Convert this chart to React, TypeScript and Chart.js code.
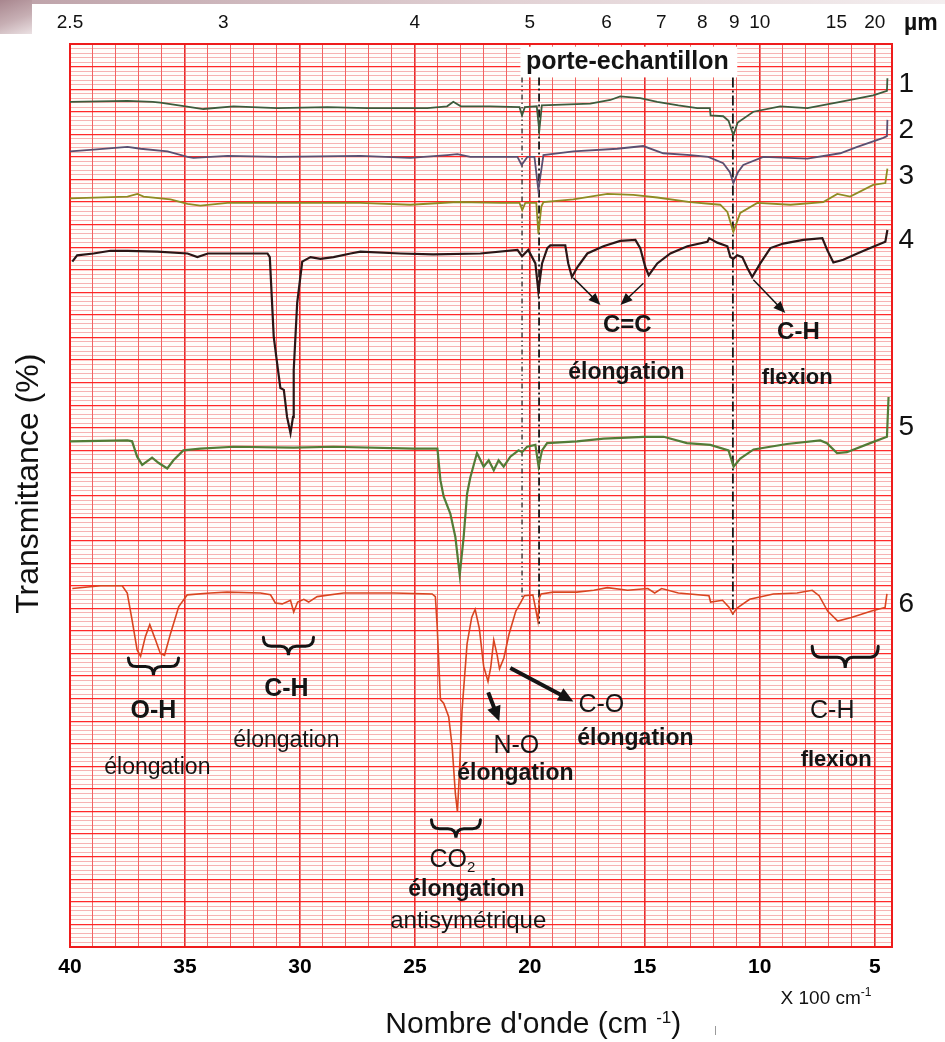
import React, { useEffect, useRef } from 'react';
import { Chart, registerables } from 'chart.js';

Chart.register(...registerables);

type Pt = [number, number];

const FONT = '"Liberation Sans", Arial, Helvetica, sans-serif';

// wavenumber (cm-1), offset transmittance (%)
const spectrum1: Pt[] = [
  [4000, 93.6], [3750, 93.7], [3640, 93.6], [3607, 93.5], [3498, 93.1], [3420, 92.8], [3289, 93.1], [3098, 92.9],
  [2880, 93.0], [2707, 92.9], [2446, 92.9], [2360, 93.1], [2333, 93.6], [2300, 93.1], [2172, 93.1], [2045, 93.0],
  [2034, 92.1], [2022, 93.0], [1970, 93.1], [1959, 90.4], [1948, 93.2], [1737, 93.4], [1650, 93.8], [1607, 94.2],
  [1520, 94.0], [1446, 93.6], [1354, 93.2], [1272, 92.9], [1217, 92.9], [1214, 92.1], [1159, 92.0], [1136, 91.5],
  [1115, 89.9], [1096, 91.3], [1028, 92.5], [911, 93.1], [793, 92.9], [650, 93.6], [507, 94.3], [447, 94.8], [445, 96.2],
];

const spectrum2: Pt[] = [
  [4000, 88.1], [3898, 88.3], [3750, 88.6], [3693, 88.4], [3576, 88.1], [3489, 87.5], [3463, 87.4], [3315, 87.6],
  [3098, 87.5], [2737, 87.6], [2520, 87.4], [2359, 87.7], [2315, 87.8], [2259, 87.5], [2054, 87.5], [2036, 86.6],
  [2011, 87.5], [1980, 87.5], [1963, 83.8], [1941, 87.7], [1811, 88.1], [1620, 88.4], [1507, 88.7], [1420, 87.9],
  [1302, 87.7], [1224, 87.5], [1159, 86.8], [1130, 85.8], [1115, 84.6], [1095, 85.8], [1072, 86.6], [985, 87.5],
  [793, 87.3], [650, 87.9], [576, 88.6], [463, 89.6], [447, 89.8], [445, 91.6],
];

const spectrum3: Pt[] = [
  [4000, 82.9], [3750, 83.1], [3707, 83.4], [3680, 83.1], [3563, 82.8], [3489, 82.3], [3433, 82.1], [3315, 82.4],
  [2737, 82.4], [2520, 82.2], [2315, 82.5], [2128, 82.4], [2045, 82.4], [2033, 81.6], [2020, 82.4], [1972, 82.4],
  [1963, 79.0], [1950, 82.0], [1941, 82.5], [1811, 82.8], [1663, 83.4], [1550, 83.3], [1446, 83.0], [1302, 82.5],
  [1172, 82.2], [1141, 81.4], [1115, 79.2], [1085, 81.3], [1011, 82.4], [867, 82.2], [724, 82.5], [663, 83.4],
  [607, 83.1], [507, 84.4], [454, 84.6], [445, 86.2],
];

const spectrum4: Pt[] = [
  [3990, 75.9], [3969, 76.6], [3898, 76.8], [3824, 77.1], [3750, 77.1], [3620, 77.0], [3489, 76.8], [3446, 76.4],
  [3400, 76.8], [3315, 76.8], [3141, 76.8], [3131, 76.4], [3114, 67.6], [3099, 64.6], [3085, 61.9], [3070, 61.7],
  [3056, 58.7], [3041, 56.9], [3030, 58.7], [3027, 63.9], [3012, 71.3], [2990, 75.9], [2954, 76.4], [2911, 76.2],
  [2854, 76.4], [2780, 76.8], [2737, 77.0], [2563, 76.8], [2420, 76.7], [2215, 76.8], [2054, 77.2], [2034, 76.5],
  [2007, 77.2], [1976, 75.7], [1963, 72.6], [1947, 75.7], [1924, 77.4], [1911, 77.7], [1846, 77.7], [1833, 75.7],
  [1817, 74.2], [1793, 75.3], [1750, 76.8], [1680, 77.6], [1607, 78.2], [1541, 78.3], [1520, 77.4], [1498, 75.3],
  [1483, 74.4], [1446, 75.7], [1389, 76.8], [1315, 77.6], [1228, 78.1], [1220, 78.5], [1185, 78.0], [1141, 77.6],
  [1128, 76.4], [1115, 76.2], [1098, 76.6], [1076, 76.4], [1054, 75.2], [1033, 74.2], [998, 75.7], [954, 77.4],
  [898, 77.9], [811, 78.3], [728, 78.5], [707, 77.2], [680, 75.8], [637, 76.1], [576, 76.8], [520, 77.4],
  [454, 78.1], [445, 79.4],
];

const spectrum5: Pt[] = [
  [4000, 56.0], [3750, 56.1], [3730, 56.0], [3708, 54.3], [3686, 53.4], [3643, 54.2], [3614, 53.6], [3577, 53.0],
  [3550, 53.9], [3507, 55.0], [3433, 55.2], [3289, 55.4], [3027, 55.3], [2854, 55.4], [2507, 55.2], [2402, 55.2],
  [2389, 51.7], [2375, 49.9], [2346, 48.0], [2324, 45.4], [2305, 41.2], [2288, 45.4], [2273, 50.2], [2259, 52.0],
  [2230, 54.7], [2201, 53.2], [2179, 53.9], [2157, 52.8], [2136, 53.9], [2114, 53.2], [2085, 54.3], [2049, 55.0],
  [2034, 54.8], [2012, 55.4], [1976, 55.6], [1962, 53.2], [1947, 55.0], [1925, 55.8], [1795, 56.0], [1679, 56.3],
  [1505, 56.5], [1418, 56.5], [1317, 55.8], [1215, 55.6], [1136, 55.0], [1114, 53.2], [1085, 54.1], [1027, 55.1],
  [882, 55.7], [737, 56.1], [708, 55.8], [664, 54.7], [621, 54.8], [520, 55.8], [447, 56.5], [440, 60.9],
];

const spectrum6: Pt[] = [
  [3990, 39.7], [3867, 40.0], [3773, 40.0], [3751, 39.2], [3730, 36.2], [3708, 32.9], [3693, 32.2], [3672, 34.4],
  [3653, 35.7], [3628, 34.0], [3607, 32.5], [3589, 32.3], [3563, 34.7], [3527, 37.7], [3490, 39.0], [3389, 39.2],
  [3317, 39.3], [3172, 39.2], [3128, 39.0], [3107, 38.1], [3077, 38.0], [3041, 38.4], [3027, 37.1], [3010, 38.2],
  [2983, 38.5], [2962, 38.2], [2925, 38.8], [2810, 39.2], [2592, 39.2], [2425, 39.1], [2411, 38.8], [2403, 35.5],
  [2389, 27.4], [2375, 27.0], [2353, 25.5], [2338, 22.2], [2324, 17.0], [2315, 15.0], [2307, 18.9], [2295, 26.2],
  [2273, 33.6], [2253, 36.5], [2238, 37.4], [2220, 35.3], [2201, 31.1], [2182, 29.4], [2170, 31.0], [2157, 34.0],
  [2142, 32.3], [2132, 30.8], [2113, 32.0], [2091, 34.6], [2061, 37.2], [2039, 38.2], [2024, 38.9], [1987, 39.0],
  [1976, 37.6], [1965, 36.1], [1958, 38.7], [1951, 39.1], [1899, 39.3], [1796, 39.3], [1722, 39.5], [1663, 39.8],
  [1575, 39.5], [1487, 39.7], [1457, 39.2], [1427, 39.7], [1354, 39.2], [1221, 38.9], [1214, 38.2], [1162, 38.4],
  [1133, 37.6], [1118, 36.9], [1096, 37.6], [1044, 38.5], [941, 39.1], [838, 39.2], [772, 39.5], [742, 38.9],
  [705, 37.2], [661, 36.1], [602, 36.5], [514, 37.2], [455, 37.6], [447, 39.1],
];

const spectra: Pt[][] = [spectrum1, spectrum2, spectrum3, spectrum4, spectrum5, spectrum6];
const spectrumColors = ['#3d5b3c', '#5a4f70', '#8e8b22', '#2a1616', '#527c36', '#d9441f'];
const spectrumWidths = [1.8, 1.8, 1.8, 2.2, 2.2, 1.6];

const curveLabels = ['1', '2', '3', '4', '5', '6'];
const curveLabelT = [95.5, 90.5, 85.3, 78.3, 57.6, 38.0];
const CURVE_LABEL_WN = 363;

// sample-holder bands (dash-dot guide lines)
const holderWn = [2034, 1960, 1117];
const holderBottomT = [38.5, 35.8, 36.5];
const holderDash = [[5, 3, 1.5, 3, 1.5, 3], [8, 3, 2, 3], [10, 3, 2, 3]];
const holderWidth = [1.2, 1.8, 1.8];
const HOLDER_TOP_T = 96.3;

const wavenumberLabelTicks = [4000, 3500, 3000, 2500, 2000, 1500, 1000, 500];
const micronTicks = [2.5, 3, 4, 5, 6, 7, 8, 9, 10, 15, 20];

const WN_MIN = 425;
const WN_MAX = 4000;

type Note = { text: string; wn: number; t: number; size: number; bold?: boolean };
const notes: Note[] = [
  { text: 'porte-echantillon', wn: 1576, t: 98.0, size: 25, bold: true },
  { text: 'C=C', wn: 1576, t: 68.8, size: 24, bold: true },
  { text: 'élongation', wn: 1580, t: 63.6, size: 23, bold: true },
  { text: 'C-H', wn: 832, t: 68.1, size: 24, bold: true },
  { text: 'flexion', wn: 837, t: 63.0, size: 22, bold: true },
  { text: 'O-H', wn: 3637, t: 26.1, size: 25, bold: true },
  { text: 'élongation', wn: 3620, t: 19.9, size: 23 },
  { text: 'C-H', wn: 3059, t: 28.6, size: 25, bold: true },
  { text: 'élongation', wn: 3059, t: 22.9, size: 23 },
  { text: 'N-O', wn: 2059, t: 22.3, size: 25 },
  { text: 'élongation', wn: 2063, t: 19.2, size: 23, bold: true },
  { text: 'C-O', wn: 1689, t: 26.8, size: 25 },
  { text: 'élongation', wn: 1541, t: 23.1, size: 23, bold: true },
  { text: 'élongation', wn: 2276, t: 6.3, size: 23, bold: true },
  { text: 'antisymétrique', wn: 2268, t: 2.8, size: 24 },
  { text: 'C-H', wn: 685, t: 26.1, size: 25 },
  { text: 'flexion', wn: 668, t: 20.7, size: 22, bold: true },
];

const braces = [
  { from: 3746, to: 3528, top: 32.0, tip: 30.1 },
  { from: 3159, to: 2941, top: 34.3, tip: 32.3 },
  { from: 2428, to: 2215, top: 14.1, tip: 12.1 },
  { from: 772, to: 485, top: 33.3, tip: 30.9 },
];

const arrows = [
  { from: [1811, 74.1], to: [1693, 71.1], w: 1.5 },
  { from: [1506, 73.5], to: [1606, 71.1], w: 1.5 },
  { from: [1028, 73.9], to: [889, 70.2], w: 1.5 },
  { from: [2181, 28.2], to: [2133, 25.0], w: 4 },
  { from: [2085, 30.9], to: [1811, 27.2], w: 4 },
];

const xGrid: number[] = [];
for (let v = 500; v <= 4000; v += 100) xGrid.push(v);
const yGrid: number[] = [];
for (let i = 0; i <= 200; i++) yGrid.push(i / 2);

const isMajorT = (v: number) => Math.abs(v / 2.5 - Math.round(v / 2.5)) < 1e-6;

function font(size: number, bold?: boolean) {
  return `${bold ? 'bold ' : ''}${size}px ${FONT}`;
}

function drawText(ctx: CanvasRenderingContext2D, s: string, x: number, y: number, size: number, bold?: boolean, align: CanvasTextAlign = 'center') {
  ctx.font = font(size, bold);
  ctx.textAlign = align;
  ctx.textBaseline = 'middle';
  ctx.fillText(s, x, y);
}

function drawSup(ctx: CanvasRenderingContext2D, main: string, sup: string, tail: string, cx: number, base: number, size: number, supSize: number, rise: number) {
  ctx.font = font(size);
  const w1 = ctx.measureText(main).width;
  const w3 = ctx.measureText(tail).width;
  ctx.font = font(supSize);
  const w2 = ctx.measureText(sup).width;
  let x = cx - (w1 + w2 + w3) / 2;
  ctx.textAlign = 'left';
  ctx.textBaseline = 'alphabetic';
  ctx.font = font(size);
  ctx.fillText(main, x, base);
  x += w1;
  ctx.font = font(supSize);
  ctx.fillText(sup, x, base - rise);
  x += w2;
  ctx.font = font(size);
  ctx.fillText(tail, x, base);
}

function drawBrace(ctx: CanvasRenderingContext2D, x1: number, x2: number, yTop: number, yTip: number) {
  const xc = (x1 + x2) / 2;
  const ym = (yTop + yTip) / 2;
  const q = Math.min(8, Math.abs(x2 - x1) / 6);
  ctx.beginPath();
  ctx.moveTo(x1, yTop);
  ctx.quadraticCurveTo(x1, ym, x1 + q, ym);
  ctx.lineTo(xc - q, ym);
  ctx.quadraticCurveTo(xc, ym, xc, yTip);
  ctx.quadraticCurveTo(xc, ym, xc + q, ym);
  ctx.lineTo(x2 - q, ym);
  ctx.quadraticCurveTo(x2, ym, x2, yTop);
  ctx.stroke();
}

function drawArrow(ctx: CanvasRenderingContext2D, x1: number, y1: number, x2: number, y2: number, w: number) {
  const a = Math.atan2(y2 - y1, x2 - x1);
  const hl = w > 2 ? 15 : 12;
  const hw = w > 2 ? 7 : 5;
  ctx.lineWidth = w;
  ctx.beginPath();
  ctx.moveTo(x1, y1);
  ctx.lineTo(x2 - hl * 0.7 * Math.cos(a), y2 - hl * 0.7 * Math.sin(a));
  ctx.stroke();
  ctx.beginPath();
  ctx.moveTo(x2, y2);
  ctx.lineTo(x2 - hl * Math.cos(a) + hw * Math.sin(a), y2 - hl * Math.sin(a) - hw * Math.cos(a));
  ctx.lineTo(x2 - hl * Math.cos(a) - hw * Math.sin(a), y2 - hl * Math.sin(a) + hw * Math.cos(a));
  ctx.closePath();
  ctx.fill();
}

const paperPlugin = {
  id: 'paper',
  beforeDraw(chart: any) {
    const { ctx, chartArea: a } = chart;
    ctx.save();
    ctx.fillStyle = '#fffdfa';
    ctx.fillRect(a.left, a.top, a.right - a.left, a.bottom - a.top);
    ctx.restore();
  },
  beforeDatasetsDraw(chart: any) {
    const { ctx } = chart;
    const x = chart.scales.x;
    const y = chart.scales.y;
    ctx.save();
    ctx.fillStyle = '#ffffff';
    const l = x.getPixelForValue(2041);
    const r = x.getPixelForValue(1098);
    const t = y.getPixelForValue(99.7);
    const b = y.getPixelForValue(96.3);
    ctx.fillRect(l, t, r - l, b - t);
    ctx.restore();
  },
};

const annotationPlugin = {
  id: 'annotations',
  afterDraw(chart: any) {
    const { ctx, chartArea: area } = chart;
    const x = chart.scales.x;
    const y = chart.scales.y;
    ctx.save();
    ctx.fillStyle = '#141414';
    ctx.strokeStyle = '#141414';

    notes.forEach((n) => drawText(ctx, n.text, x.getPixelForValue(n.wn), y.getPixelForValue(n.t), n.size, n.bold));

    // CO2 with subscript
    {
      const cx = x.getPixelForValue(2337);
      const base = y.getPixelForValue(9.9) + 9;
      ctx.font = font(25);
      const w1 = ctx.measureText('CO').width;
      ctx.font = font(15);
      const w2 = ctx.measureText('2').width;
      const sx = cx - (w1 + w2) / 2;
      ctx.textAlign = 'left';
      ctx.textBaseline = 'alphabetic';
      ctx.font = font(25);
      ctx.fillText('CO', sx, base);
      ctx.font = font(15);
      ctx.fillText('2', sx + w1, base + 5);
    }

    ctx.lineWidth = 3;
    ctx.lineCap = 'round';
    braces.forEach((b) => drawBrace(ctx, x.getPixelForValue(b.from), x.getPixelForValue(b.to), y.getPixelForValue(b.top), y.getPixelForValue(b.tip)));
    ctx.lineCap = 'butt';
    arrows.forEach((a) =>
      drawArrow(ctx, x.getPixelForValue(a.from[0]), y.getPixelForValue(a.from[1]), x.getPixelForValue(a.to[0]), y.getPixelForValue(a.to[1]), a.w)
    );

    // spectrum numbers on the right
    ctx.fillStyle = '#111';
    curveLabels.forEach((s, i) => drawText(ctx, s, x.getPixelForValue(CURVE_LABEL_WN), y.getPixelForValue(curveLabelT[i]), 28));

    // axis titles
    ctx.save();
    ctx.translate(area.left - 41, y.getPixelForValue(51.3));
    ctx.rotate(-Math.PI / 2);
    drawText(ctx, 'Transmittance (%)', 0, 0, 32);
    ctx.restore();

    drawSup(ctx, "Nombre d'onde (cm ", '-1', ')', x.getPixelForValue(1985), area.bottom + 86, 30, 17, 10);
    drawSup(ctx, 'X 100 cm', '-1', '', x.getPixelForValue(712), area.bottom + 57, 19, 12, 8);
    drawText(ctx, 'µm', area.right + 12, 24, 23, true, 'left');

    ctx.strokeStyle = '#9a9a9a';
    ctx.lineWidth = 1;
    ctx.beginPath();
    ctx.moveTo(715.5, area.bottom + 79);
    ctx.lineTo(715.5, area.bottom + 88);
    ctx.stroke();
    ctx.restore();
  },
};

export default function App() {
  const ref = useRef<HTMLCanvasElement | null>(null);

  useEffect(() => {
    const canvas = ref.current;
    if (!canvas) return;

    const spectrumSets = spectra.map((s, i) => ({
      label: `Spectre ${curveLabels[i]}`,
      data: s.map(([wn, t]) => ({ x: wn, y: t })),
      borderColor: spectrumColors[i],
      borderWidth: spectrumWidths[i],
      pointRadius: 0,
      fill: false,
      tension: 0,
    }));
    const holderSets = holderWn.map((wn, i) => ({
      label: `porte ${i}`,
      data: [
        { x: wn, y: HOLDER_TOP_T },
        { x: wn, y: holderBottomT[i] },
      ],
      borderColor: '#151515',
      borderWidth: holderWidth[i],
      borderDash: holderDash[i],
      pointRadius: 0,
      fill: false,
    }));

    const chart = new Chart(canvas, {
      type: 'line',
      data: { datasets: [...spectrumSets, ...holderSets] as any },
      plugins: [paperPlugin, annotationPlugin],
      options: {
        responsive: false,
        devicePixelRatio: 1,
        animation: false,
        layout: { padding: 0 },
        plugins: { legend: { display: false }, tooltip: { enabled: false } },
        events: [],
        scales: {
          x: {
            type: 'linear',
            position: 'bottom',
            reverse: true,
            min: WN_MIN,
            max: WN_MAX,
            afterBuildTicks: (s: any) => {
              s.ticks = xGrid.map((v) => ({ value: v }));
            },
            afterFit: (s: any) => {
              s.height = 95;
            },
            grid: {
              drawTicks: false,
              color: (c: any) => (c.tick && c.tick.value % 500 === 0 ? 'rgba(232,30,30,0.95)' : 'rgba(240,55,55,0.78)'),
              lineWidth: (c: any) => (c.tick && c.tick.value % 500 === 0 ? 1.6 : 1),
            },
            border: { display: true, color: '#ee1c1c', width: 2 },
            ticks: {
              autoSkip: false,
              maxRotation: 0,
              minRotation: 0,
              padding: 8,
              color: '#000',
              font: { family: FONT, size: 21, weight: 'bold' },
              callback: (v: any) => (wavenumberLabelTicks.includes(Number(v)) ? String(Number(v) / 100) : ''),
            },
          },
          xTop: {
            type: 'linear',
            position: 'top',
            reverse: true,
            min: WN_MIN,
            max: WN_MAX,
            afterBuildTicks: (s: any) => {
              s.ticks = micronTicks.map((u) => ({ value: 10000 / u }));
            },
            afterFit: (s: any) => {
              s.height = 44;
            },
            grid: { display: false, drawTicks: false },
            border: { display: true, color: '#ee1c1c', width: 2 },
            ticks: {
              autoSkip: false,
              maxRotation: 0,
              minRotation: 0,
              padding: 10,
              color: '#111',
              font: { family: FONT, size: 19 },
              callback: (v: any) => String(Math.round((10000 / Number(v)) * 10) / 10),
            },
          },
          y: {
            type: 'linear',
            position: 'left',
            min: 0,
            max: 100,
            afterBuildTicks: (s: any) => {
              s.ticks = yGrid.map((v) => ({ value: v }));
            },
            afterFit: (s: any) => {
              s.width = 70;
            },
            grid: {
              drawTicks: false,
              color: (c: any) => (c.tick && isMajorT(c.tick.value) ? 'rgba(255,30,30,0.95)' : 'rgba(238,105,105,0.5)'),
              lineWidth: (c: any) => (c.tick && isMajorT(c.tick.value) ? 1.3 : 1),
            },
            border: { display: true, color: '#ee1c1c', width: 2 },
            ticks: { display: false, autoSkip: false },
          },
          yRight: {
            type: 'linear',
            position: 'right',
            min: 0,
            max: 100,
            afterFit: (s: any) => {
              s.width = 53;
            },
            grid: { display: false, drawTicks: false },
            border: { display: true, color: '#ee1c1c', width: 2 },
            ticks: { display: false },
          },
        },
      } as any,
    });

    return () => chart.destroy();
  }, []);

  return (
    <div style={{ position: 'absolute', left: 0, top: 0, width: 945, height: 1042, background: '#ffffff', overflow: 'hidden' }}>
      <div
        style={{
          position: 'absolute',
          left: 0,
          top: 0,
          width: 945,
          height: 4,
          background: 'linear-gradient(90deg, #bda1a8, #e2d2d5 55%, #f4eeef)',
        }}
      />
      <div
        style={{
          position: 'absolute',
          left: 0,
          top: 0,
          width: 32,
          height: 34,
          background: 'linear-gradient(160deg, #a8868e, #c7afb4 55%, #ebe1e3)',
        }}
      />
      <canvas ref={ref} width={945} height={1042} style={{ position: 'absolute', left: 0, top: 0, width: 945, height: 1042 }} />
    </div>
  );
}
